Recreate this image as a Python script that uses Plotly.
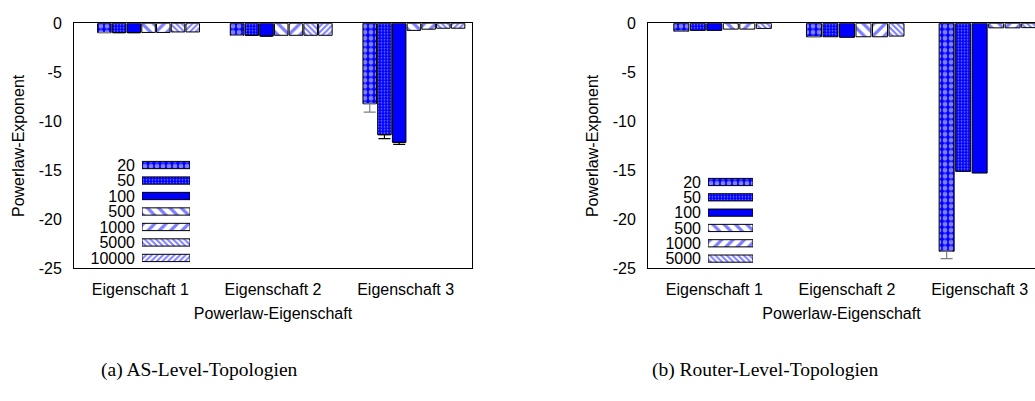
import plotly.graph_objects as go

# ---------------- data ----------------
categories = ["Eigenschaft 1", "Eigenschaft 2", "Eigenschaft 3"]
y_tickvals = [0, -5, -10, -15, -20, -25]
y_ticktext = ["0", "-5", "-10", "-15", "-20", "-25"]

as_names = ["20", "50", "100", "500", "1000", "5000", "10000"]
as_20 = [-0.95, -1.22, -8.2]
as_50 = [-0.95, -1.22, -11.36]
as_100 = [-0.95, -1.30, -12.14]
as_500 = [-0.93, -1.22, -0.72]
as_1000 = [-0.93, -1.22, -0.60]
as_5000 = [-0.88, -1.22, -0.50]
as_10000 = [-0.88, -1.22, -0.50]
as_20_err = [0, 0, 0.85]
as_50_err = [0, 0, 0.40]
as_100_err = [0, 0, 0.20]

rt_names = ["20", "50", "100", "500", "1000", "5000"]
rt_20 = [-0.80, -1.37, -23.24]
rt_50 = [-0.72, -1.37, -15.10]
rt_100 = [-0.72, -1.43, -15.27]
rt_500 = [-0.59, -1.37, -0.46]
rt_1000 = [-0.59, -1.37, -0.46]
rt_5000 = [-0.52, -1.30, -0.44]
rt_20_err = [0, 0, 0.76]

caption_a = "(a) AS-Level-Topologien"
caption_b = "(b) Router-Level-Topologien"

# ---------------- style ----------------
W, H = 1035, 401
BLUE = "#0000ff"
FONT = "Liberation Sans, Arial, sans-serif"

patterns = {
    "20": dict(shape=".", bgcolor=BLUE, fgcolor="white", size=6, solidity=0.5),
    "50": dict(shape=".", bgcolor=BLUE, fgcolor="white", size=3, solidity=0.25),
    "100": dict(shape="", bgcolor=BLUE),
    "500": dict(shape="\\", bgcolor="white", fgcolor=BLUE, size=8, solidity=0.4),
    "1000": dict(shape="/", bgcolor="white", fgcolor=BLUE, size=8, solidity=0.4),
    "5000": dict(shape="\\", bgcolor="white", fgcolor=BLUE, size=4, solidity=0.5),
    "10000": dict(shape="/", bgcolor="white", fgcolor=BLUE, size=4, solidity=0.5),
}


def px_x(p):
    return p / W


def px_y(p):
    return 1 - p / H


fig = go.Figure()

xpos = [0, 1, 2]
shift = 0.062


def add_group(names, values, errs, xa, ya, pitch, width):
    n = len(names)
    start = shift - (n * pitch - (pitch - width)) / 2
    for j, (nm, vals) in enumerate(zip(names, values)):
        err = errs.get(nm)
        eb = None
        if err is not None:
            eb = dict(type="data", symmetric=False, array=[0, 0, 0], arrayminus=err,
                      color="#808080" if nm == "20" else "black", thickness=1.2, width=6)
        pat = patterns[nm]
        fig.add_trace(go.Bar(
            x=xpos, y=vals, base=0, xaxis=xa, yaxis=ya, name=nm,
            offset=start + j * pitch, width=width,
            marker=dict(color=BLUE if pat["shape"] == "" else "white",
                        line=dict(color="black", width=1), pattern=pat),
            error_y=eb, showlegend=False,
        ))


add_group(as_names, [as_20, as_50, as_100, as_500, as_1000, as_5000, as_10000],
          {"20": as_20_err, "50": as_50_err, "100": as_100_err}, "x", "y", 0.111, 0.102)
add_group(rt_names, [rt_20, rt_50, rt_100, rt_500, rt_1000, rt_5000],
          {"20": rt_20_err}, "x2", "y2", 0.1244, 0.113)


# legend samples drawn as horizontal bars on small axes
def add_legend(names, xa, ya):
    for i, nm in enumerate(names):
        pat = patterns[nm]
        fig.add_trace(go.Bar(
            x=[1], y=[i], base=0, orientation="h", width=0.47,
            xaxis=xa, yaxis=ya, showlegend=False, hoverinfo="skip",
            marker=dict(color=BLUE if pat["shape"] == "" else "white",
                        line=dict(color="black", width=1), pattern=pat),
        ))


add_legend(as_names, "x3", "y3")
add_legend(rt_names, "x4", "y4")

ydom = [px_y(272), px_y(16)]
axis_common = dict(showline=True, linecolor="black", linewidth=1, ticks="",
                   showgrid=False, zeroline=False,
                   tickfont=dict(family=FONT, size=16, color="black"))

fig.update_layout(
    width=W, height=H, margin=dict(l=0, r=0, t=0, b=0),
    paper_bgcolor="white", plot_bgcolor="white",
    barmode="overlay", showlegend=False,
    font=dict(family=FONT, size=16, color="black"),
    xaxis=dict(domain=[px_x(74), px_x(472)], range=[-0.5, 2.5], tickvals=xpos,
               ticktext=categories, mirror=True, ticklabelstandoff=6,
               title=dict(text="Powerlaw-Eigenschaft", standoff=11,
                          font=dict(family=FONT, size=16, color="black")),
               anchor="y", **axis_common),
    yaxis=dict(domain=ydom, range=[-25, 0], tickvals=y_tickvals, ticktext=y_ticktext,
               mirror=True, ticklabelstandoff=8, anchor="x",
               title=dict(text="Powerlaw-Exponent", standoff=10,
                          font=dict(family=FONT, size=16, color="black")),
               **axis_common),
    xaxis2=dict(domain=[px_x(648), 1.0], range=[-0.5, -0.5 + (W - 648) / 132.67],
                tickvals=xpos, ticktext=categories, mirror=True, ticklabelstandoff=6,
                title=dict(text="Powerlaw-Eigenschaft", standoff=11,
                           font=dict(family=FONT, size=16, color="black")),
                anchor="y2", **axis_common),
    yaxis2=dict(domain=ydom, range=[-25, 0], tickvals=y_tickvals, ticktext=y_ticktext,
                mirror=False, ticklabelstandoff=8, anchor="x2",
                title=dict(text="Powerlaw-Exponent", standoff=10,
                           font=dict(family=FONT, size=16, color="black")),
                **axis_common),
    xaxis3=dict(domain=[px_x(142), px_x(190)], range=[0, 1], visible=False, anchor="y3"),
    yaxis3=dict(domain=[px_y(261 + 8.1), px_y(164 - 8.1)], range=[6.5, -0.5],
                tickvals=list(range(len(as_names))), ticktext=as_names, showgrid=False,
                zeroline=False, showline=False, ticks="", ticklabelstandoff=6,
                tickfont=dict(family=FONT, size=16, color="black"), anchor="x3"),
    xaxis4=dict(domain=[px_x(708), px_x(753)], range=[0, 1], visible=False, anchor="y4"),
    yaxis4=dict(domain=[px_y(261.7 + 8), px_y(181.7 - 8)], range=[5.5, -0.5],
                tickvals=list(range(len(rt_names))), ticktext=rt_names, showgrid=False,
                zeroline=False, showline=False, ticks="", ticklabelstandoff=6,
                tickfont=dict(family=FONT, size=16, color="black"), anchor="x4"),
    annotations=[
        dict(text=caption_a, xref="paper", yref="paper", x=px_x(99), y=px_y(378),
             xanchor="left", yanchor="middle", showarrow=False,
             font=dict(family="Liberation Serif, Times New Roman, serif", size=19.5, color="black")),
        dict(text=caption_b, xref="paper", yref="paper", x=px_x(650), y=px_y(378),
             xanchor="left", yanchor="middle", showarrow=False,
             font=dict(family="Liberation Serif, Times New Roman, serif", size=19.5, color="black")),
    ],
)

fig.write_html("out.html")
